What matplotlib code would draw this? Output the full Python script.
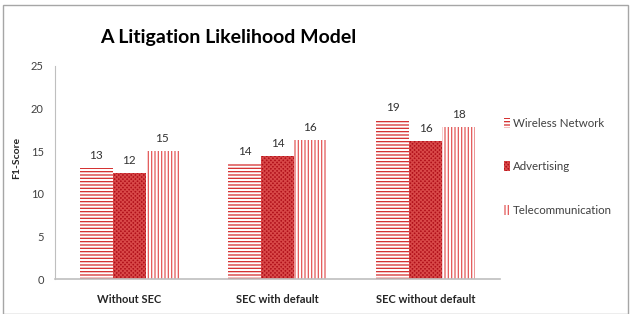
import numpy as np
import matplotlib
matplotlib.use('Agg')
import matplotlib.pyplot as plt
from matplotlib.patches import Rectangle

plt.rcParams['font.family'] = ['Lato', 'DejaVu Sans']
plt.rcParams['hatch.linewidth'] = 0.9

categories = ['Without SEC', 'SEC with default', 'SEC without default']
series = ['Wireless Network', 'Advertising', 'Telecommunication']
wireless = [13.0, 13.5, 18.7]
advertising = [12.5, 14.4, 16.2]
telecom = [15.0, 16.3, 17.8]
labels = [['13', '14', '19'], ['12', '14', '16'], ['15', '16', '18']]

styles = [
    dict(facecolor='white', edgecolor='#D42A2A', hatch='-----'),
    dict(facecolor='#B0101A', edgecolor='#D84848', hatch='xxxxxxxx'),
    dict(facecolor='white', edgecolor='#E35858', hatch='|||||'),
]

fig = plt.figure(figsize=(6.3, 3.14), dpi=100)
ax = fig.add_axes([55 / 630, 35 / 314, 445 / 630, 213 / 314])

x = np.arange(len(categories))
w = 0.222
for i, vals in enumerate([wireless, advertising, telecom]):
    bars = ax.bar(x + (i - 1) * w, vals, w, linewidth=0, label=series[i], **styles[i])
    for b, lab in zip(bars, labels[i]):
        ax.annotate(lab, (b.get_x() + b.get_width() / 2, b.get_height()),
                    xytext=(0, 5), textcoords='offset points',
                    ha='center', va='bottom', fontsize=8.5, color='#333333')

ax.set_xlim(-0.5, 2.5)
ax.set_ylim(0, 25)
ax.set_yticks([0, 5, 10, 15, 20, 25])
ax.set_xticks(x)
ax.set_xticklabels(categories, fontsize=8, fontweight='bold', color='#262626')
ax.tick_params(axis='both', length=0, labelsize=8, colors='#404040')
ax.tick_params(axis='x', pad=11, colors='#262626')
ax.tick_params(axis='y', pad=8)
for s in ['top', 'right']:
    ax.spines[s].set_visible(False)
for s in ['left', 'bottom']:
    ax.spines[s].set_color('#BFBFBF')
ax.spines['left'].set_linewidth(0.8)
ax.spines['bottom'].set_linewidth(1.2)

ax.set_ylabel('F1-Score', fontsize=7.5, fontweight='bold', color='#262626')
ax.yaxis.set_label_coords(-0.075, 0.57)
fig.text(100 / 630, 1 - 38 / 314, 'A Litigation Likelihood Model', fontsize=14,
         fontweight='bold', va='center', ha='left', color='black')

fig.legend(loc='upper left', bbox_to_anchor=(498 / 630, 1 - 112 / 314), frameon=False,
           fontsize=8.3, handlelength=0.5, handleheight=1.0, handletextpad=0.3,
           labelspacing=2.8, borderpad=0, labelcolor='#404040')

fig.patches.append(Rectangle((3 / 630, 0), 625 / 630, 1 - 5 / 314, transform=fig.transFigure,
                             fill=False, edgecolor='#A6A6A6', linewidth=1))

fig.savefig('out.png', dpi=100, facecolor='white')
